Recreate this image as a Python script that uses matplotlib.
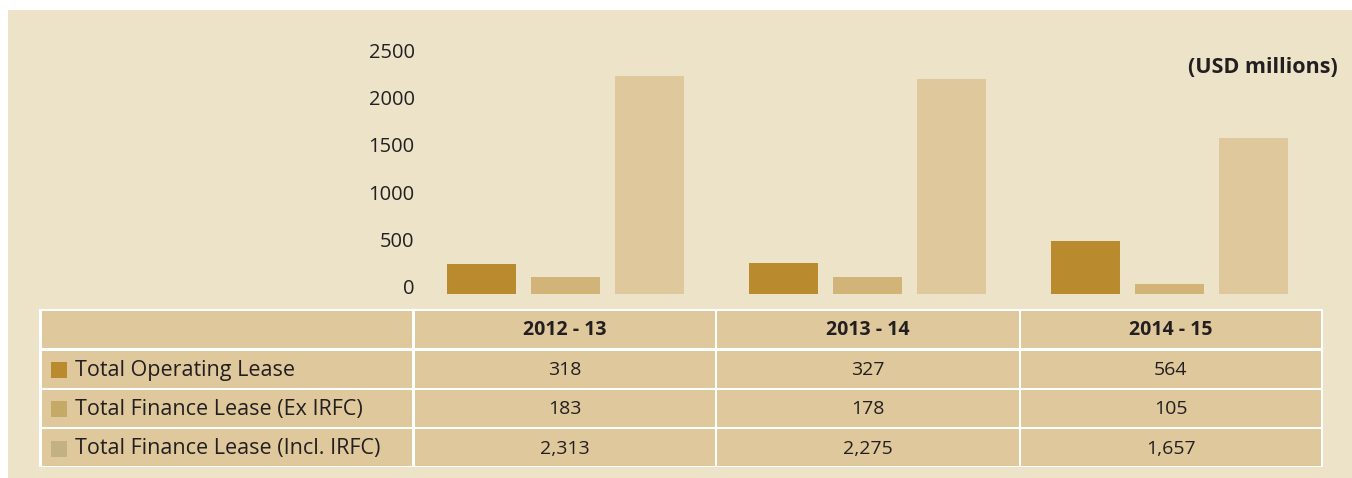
import matplotlib.pyplot as plt
from matplotlib.patches import Rectangle

years = ["2012 - 13", "2013 - 14", "2014 - 15"]
series = ["Total Operating Lease", "Total Finance Lease (Ex IRFC)",
          "Total Finance Lease (Incl. IRFC)"]
operating = [318, 327, 564]
finance_ex = [183, 178, 105]
finance_incl = [2313, 2275, 1657]
yticks = [0, 500, 1000, 1500, 2000, 2500]

bar_colors = ["#B98B2E", "#D2B378", "#DFC89C"]
swatch_colors = ["#B98B2E", "#C4AA66", "#C2B283"]
bg = "#EDE3C9"
cell = "#DFC89C"
ink = "#231F20"
font = "Open Sans"

W, H = 1352, 478
fig = plt.figure(figsize=(W / 100, H / 100), dpi=100)
fig.patch.set_facecolor("white")

# pixel overlay for panel + table
ov = fig.add_axes([0, 0, 1, 1])
ov.set_xlim(0, W)
ov.set_ylim(H, 0)
ov.axis("off")
ov.add_patch(Rectangle((8, 10), W - 8, H - 10, facecolor=bg, edgecolor="none"))

# bar chart
ax_l, ax_r = 414.7, 1320.7
ax_t, ax_b = 58, 294
ax = fig.add_axes([ax_l / W, (H - ax_b) / H, (ax_r - ax_l) / W, (ax_b - ax_t) / H])
ax.patch.set_visible(False)
x = range(len(years))
off = 0.278
bw = 0.2285
for i, vals in enumerate([operating, finance_ex, finance_incl]):
    ax.bar([k + (i - 1) * off for k in x], vals, width=bw, color=bar_colors[i])
ax.set_xlim(-0.5, 2.5)
ax.set_ylim(0, 2500)
ax.set_xticks([])
ax.set_yticks(yticks)
ax.set_yticklabels([str(t) for t in yticks], fontfamily=font, fontsize=14.5, color=ink)
for lab in ax.get_yticklabels():
    lab.set_va("baseline")
ax.tick_params(axis="y", length=0, pad=0)
for s in ax.spines.values():
    s.set_visible(False)

ov.text(1338, 67, "(USD millions)", ha="right", va="center", fontfamily=font,
        fontweight="bold", fontsize=15.5, color=ink)

# table
ov.add_patch(Rectangle((39.3, 309), 1322.7 - 39.3, 467.3 - 309, facecolor="white",
                       edgecolor="none"))
cols = [(41.7, 412.3), (414.7, 715.3), (717.3, 1018.7), (1020.7, 1320.7)]
rows = [(311, 348.3), (350.7, 387.7), (389.7, 427), (429.3, 465.7)]
for (x0, x1) in cols:
    for (y0, y1) in rows:
        ov.add_patch(Rectangle((x0, y0), x1 - x0, y1 - y0, facecolor=cell,
                               edgecolor="none"))

for j, yr in enumerate(years):
    cx = sum(cols[j + 1]) / 2
    cy = sum(rows[0]) / 2
    ov.text(cx, cy, yr, ha="center", va="center", fontfamily=font,
            fontweight="bold", fontsize=14, color=ink)

table_vals = [operating, finance_ex, finance_incl]
for i, name in enumerate(series):
    y0, y1 = rows[i + 1]
    cy = (y0 + y1) / 2
    ov.add_patch(Rectangle((50.7, cy - 7), 16.3, 16, facecolor=swatch_colors[i],
                           edgecolor="none"))
    ov.text(75, cy + 1, name, ha="left", va="center", fontfamily=font, fontsize=15.5,
            color=ink)
    for j in range(len(years)):
        cx = sum(cols[j + 1]) / 2
        ov.text(cx, cy + 1, f"{table_vals[i][j]:,}", ha="center", va="center",
                fontfamily=font, fontsize=14, color=ink)

fig.savefig("out.png", dpi=100, facecolor=fig.get_facecolor())
